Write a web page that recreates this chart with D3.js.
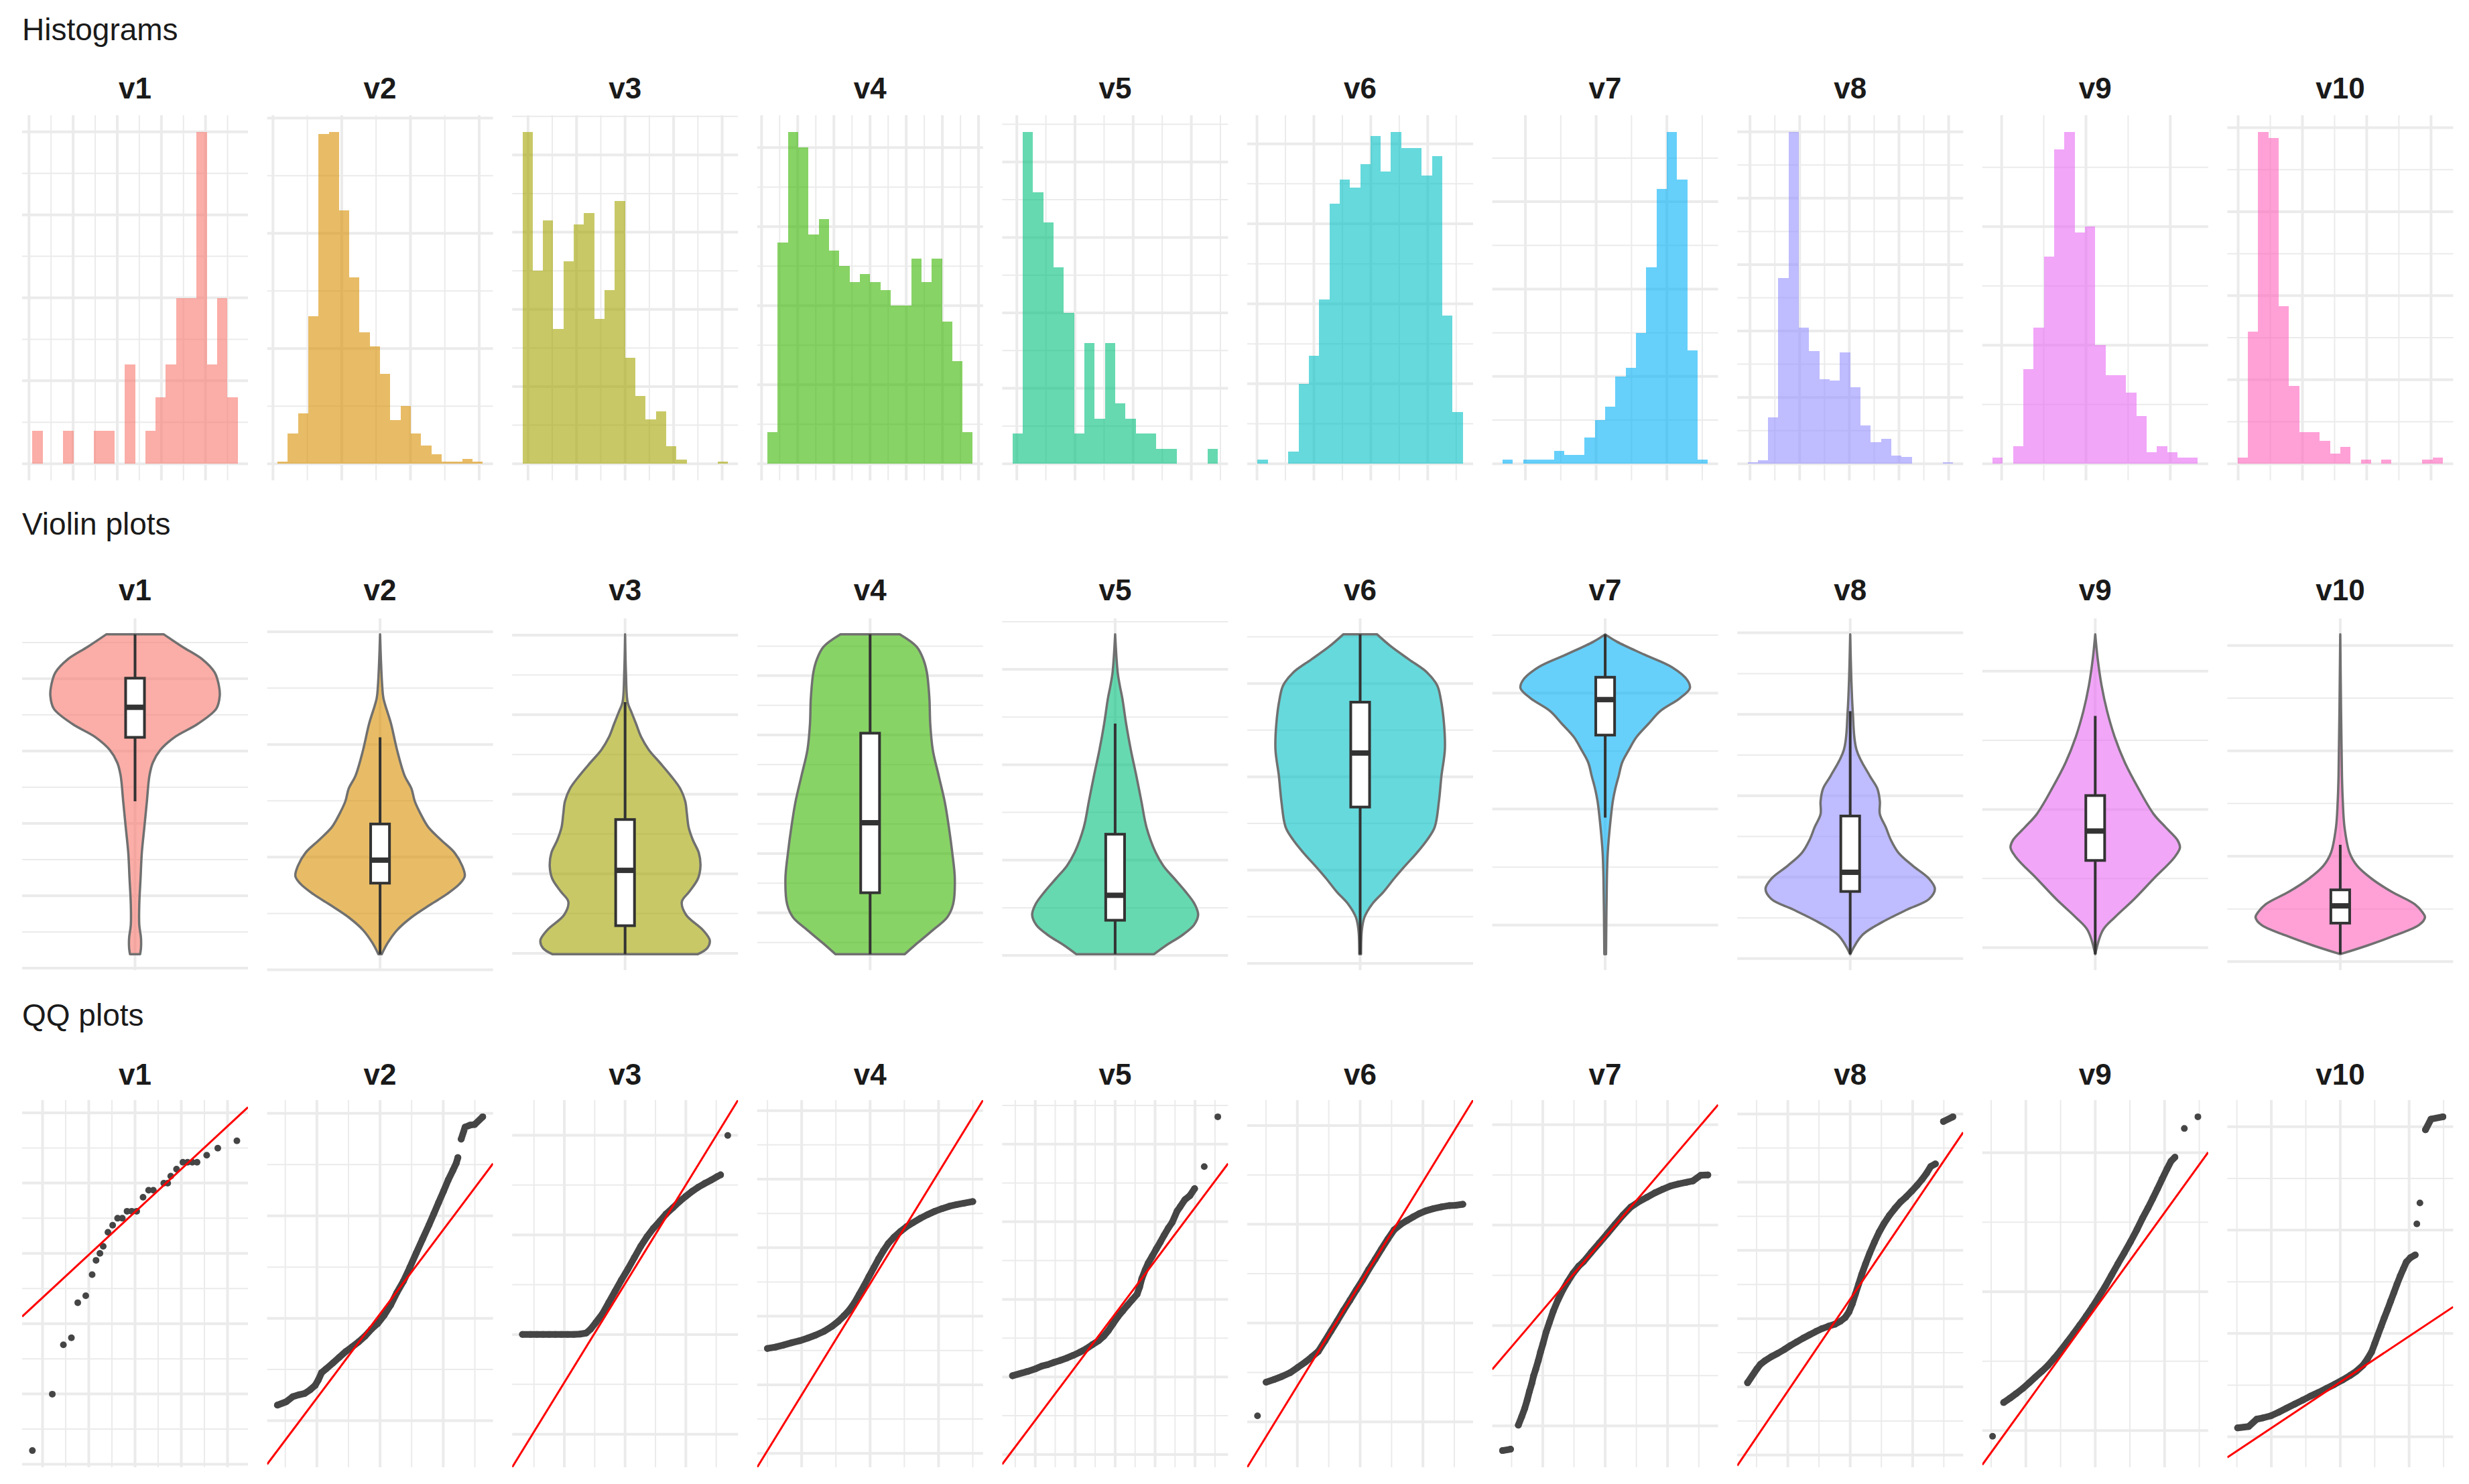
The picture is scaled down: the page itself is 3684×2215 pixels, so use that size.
<!DOCTYPE html>
<html>
<head>
<meta charset="utf-8">
<script src="https://cdn.jsdelivr.net/npm/d3@7"></script>
<style>
  body { margin: 0; background: #fff; }
  svg { display: block; font-family: "Liberation Sans", Arial, sans-serif; }
</style>
</head>
<body>
<div id="vis-holder"></div>
<script>
// ---- data -------------------------------------------------------------
const varNames = ["v1", "v2", "v3", "v4", "v5", "v6", "v7", "v8", "v9", "v10"];
const varColors = ["#F8766D", "#D89000", "#A3A500", "#39B600", "#00BF7D",
                   "#00BFC4", "#00B0F6", "#9590FF", "#E76BF3", "#FF62BC"];

// histogram counts, 20 bins spanning each variable's range
const histCounts = [
  [1,0,0,1,0,0,1,1,0,3,0,1,2,3,5,5,10,3,5,2],
  [1,13,22,64,143,144,110,81,57,51,39,19,25,13,8,4,1,1,2,1],
  [172,100,126,70,105,124,130,75,90,136,55,35,23,27,9,2,0,0,0,1],
  [8,56,84,80,58,62,54,50,46,48,46,44,40,40,52,46,52,36,26,8],
  [2,22,18,16,13,10,2,8,3,8,4,3,2,2,1,1,0,0,0,1],
  [1,0,0,3,20,27,41,65,71,69,75,82,73,83,79,79,72,77,37,13],
  [1,0,1,1,1,3,2,2,6,10,13,20,22,30,45,63,76,65,26,1],
  [1,2,28,112,200,82,68,51,50,67,46,23,13,15,5,4,0,0,0,1],
  [2,0,6,32,46,70,106,112,78,80,40,30,30,24,16,4,6,4,2,2],
  [3,63,158,155,75,37,15,15,11,5,8,0,2,0,2,0,0,0,2,3]
];
// count gridline spacing for each histogram
const histCountStep = [1.25, 25, 20, 10, 2.5, 10, 10, 20, 20, 20];

// value-axis breaks (first, spacing) on a 0 (min) .. 1 (max) value scale
const valueBreaks = [
  [-0.0435, 0.1131], [-0.049, 0.1762], [0.0024, 0.1244], [-0.0564, 0.0927], [-0.004, 0.1491],
  [-0.029, 0.1459], [0.0911, 0.1813], [-0.0137, 0.1273], [0.0201, 0.2162], [-0.0234, 0.1648]
];

// violin density profiles: [value, relative half width]
const violinDensity = [
  [[1,0.34],[0.961,0.56],[0.921,0.8],[0.881,0.94],[0.84,0.99],[0.808,1],[0.768,0.96],[0.72,0.74],[0.679,0.47],[0.639,0.3],[0.599,0.21],[0.558,0.17],[0.478,0.14],[0.397,0.11],[0.317,0.08],[0.236,0.065],[0.156,0.05],[0.091,0.05],[0.051,0.07],[0.019,0.07],[0,0.06]],
  [[1,0],[0.921,0.01],[0.84,0.025],[0.8,0.04],[0.72,0.13],[0.639,0.2],[0.558,0.29],[0.518,0.37],[0.478,0.41],[0.438,0.48],[0.397,0.57],[0.357,0.72],[0.317,0.88],[0.276,0.97],[0.244,1],[0.22,0.94],[0.188,0.79],[0.156,0.6],[0.115,0.37],[0.075,0.2],[0.035,0.09],[0,0.02]],
  [[1,0],[0.881,0.01],[0.788,0.03],[0.76,0.07],[0.72,0.13],[0.679,0.19],[0.639,0.28],[0.599,0.41],[0.558,0.54],[0.518,0.65],[0.478,0.71],[0.438,0.73],[0.397,0.75],[0.357,0.8],[0.317,0.87],[0.276,0.89],[0.236,0.86],[0.196,0.76],[0.164,0.67],[0.123,0.72],[0.075,0.92],[0.043,1],[0.019,0.97],[0,0.86]],
  [[1,0.35],[0.961,0.55],[0.921,0.63],[0.881,0.67],[0.8,0.7],[0.72,0.71],[0.639,0.74],[0.558,0.81],[0.478,0.88],[0.397,0.93],[0.317,0.97],[0.236,1],[0.156,0.98],[0.115,0.91],[0.075,0.74],[0.035,0.56],[0,0.41]],
  [[1,0],[0.881,0.03],[0.84,0.055],[0.8,0.085],[0.72,0.13],[0.639,0.185],[0.558,0.25],[0.478,0.31],[0.397,0.37],[0.317,0.48],[0.276,0.57],[0.236,0.7],[0.196,0.83],[0.156,0.94],[0.123,0.98],[0.091,0.93],[0.059,0.79],[0.027,0.6],[0,0.46]],
  [[1,0.2],[0.961,0.37],[0.921,0.58],[0.881,0.79],[0.84,0.91],[0.8,0.95],[0.72,0.99],[0.639,1],[0.558,0.96],[0.478,0.93],[0.397,0.88],[0.357,0.79],[0.317,0.67],[0.276,0.53],[0.236,0.4],[0.196,0.28],[0.156,0.14],[0.115,0.05],[0.075,0.02],[0,0.01]],
  [[1,0],[0.977,0.14],[0.937,0.46],[0.897,0.79],[0.857,0.97],[0.832,1],[0.8,0.88],[0.76,0.65],[0.72,0.51],[0.679,0.37],[0.639,0.28],[0.599,0.2],[0.558,0.16],[0.518,0.12],[0.478,0.09],[0.397,0.055],[0.317,0.03],[0.236,0.02],[0,0.01]],
  [[1,0],[0.76,0.03],[0.639,0.075],[0.558,0.23],[0.518,0.32],[0.478,0.35],[0.438,0.35],[0.397,0.42],[0.357,0.48],[0.317,0.57],[0.276,0.74],[0.236,0.93],[0.204,1],[0.172,0.93],[0.139,0.67],[0.099,0.37],[0.059,0.14],[0,0]],
  [[1,0],[0.921,0.03],[0.84,0.075],[0.76,0.14],[0.679,0.23],[0.599,0.35],[0.518,0.51],[0.438,0.69],[0.397,0.83],[0.357,0.97],[0.333,1],[0.301,0.93],[0.236,0.69],[0.172,0.46],[0.115,0.23],[0.075,0.09],[0,0]],
  [[1,0],[0.558,0.02],[0.478,0.03],[0.397,0.05],[0.317,0.11],[0.276,0.2],[0.236,0.37],[0.196,0.6],[0.156,0.88],[0.131,0.97],[0.115,1],[0.091,0.93],[0.059,0.65],[0.027,0.32],[0,0]]
];

// boxplot stats: [lower whisker, q1, median, q3, upper whisker]
const boxStats = [
  [0.478, 0.678, 0.772, 0.863, 1],
  [0, 0.222, 0.294, 0.407, 0.678],
  [0, 0.089, 0.262, 0.421, 0.788],
  [0, 0.192, 0.411, 0.691, 1],
  [0, 0.106, 0.184, 0.375, 0.721],
  [0, 0.46, 0.629, 0.788, 1],
  [0.427, 0.685, 0.796, 0.866, 1],
  [0, 0.196, 0.256, 0.432, 0.76],
  [0, 0.293, 0.385, 0.496, 0.745],
  [0, 0.097, 0.151, 0.201, 0.342]
];

// QQ points: [theoretical (rank scaled 0..1), sample (scaled)]
const qqPoints = [
  [[0,0],[0.097,0.169],[0.151,0.317],[0.19,0.338],[0.221,0.443],[0.26,0.464],[0.291,0.527],[0.31,0.57],[0.329,0.591],[0.345,0.612],[0.368,0.654],[0.391,0.675],[0.415,0.696],[0.438,0.696],[0.461,0.717],[0.484,0.717],[0.508,0.717],[0.539,0.759],[0.566,0.78],[0.589,0.78],[0.64,0.801],[0.659,0.801],[0.674,0.822],[0.702,0.843],[0.733,0.864],[0.756,0.864],[0.779,0.864],[0.802,0.864],[0.849,0.885],[0.903,0.906],[0.996,0.928]],
  [[0,0.136],[0.043,0.146],[0.074,0.161],[0.105,0.167],[0.133,0.171],[0.16,0.182],[0.184,0.195],[0.199,0.211],[0.215,0.233],[0.238,0.245],[0.27,0.262],[0.301,0.279],[0.332,0.296],[0.363,0.31],[0.395,0.325],[0.426,0.342],[0.457,0.363],[0.488,0.38],[0.52,0.405],[0.551,0.435],[0.582,0.473],[0.613,0.506],[0.645,0.548],[0.676,0.591],[0.707,0.633],[0.738,0.675],[0.762,0.709],[0.785,0.742],[0.809,0.776],[0.832,0.81],[0.855,0.839],[0.871,0.86],[0.879,0.877],[0.895,0.932],[0.914,0.968],[0.938,0.974],[0.961,0.976],[1,0.999]],
  [[0,0.348],[0.04,0.348],[0.07,0.348],[0.1,0.348],[0.13,0.348],[0.16,0.348],[0.19,0.348],[0.22,0.348],[0.25,0.348],[0.28,0.349],[0.31,0.352],[0.331,0.363],[0.358,0.384],[0.389,0.409],[0.42,0.443],[0.451,0.477],[0.482,0.511],[0.514,0.544],[0.545,0.578],[0.576,0.612],[0.607,0.641],[0.638,0.666],[0.669,0.687],[0.7,0.709],[0.732,0.727],[0.763,0.745],[0.794,0.761],[0.825,0.776],[0.856,0.789],[0.887,0.8],[0.918,0.81],[0.949,0.821],[0.965,0.826],[1,0.944]],
  [[0,0.306],[0.039,0.31],[0.078,0.316],[0.118,0.323],[0.157,0.329],[0.196,0.337],[0.235,0.346],[0.275,0.357],[0.314,0.372],[0.345,0.387],[0.373,0.404],[0.4,0.422],[0.424,0.443],[0.447,0.468],[0.471,0.494],[0.494,0.521],[0.518,0.548],[0.541,0.574],[0.565,0.599],[0.588,0.62],[0.616,0.639],[0.647,0.656],[0.678,0.671],[0.71,0.683],[0.745,0.696],[0.78,0.707],[0.816,0.717],[0.851,0.725],[0.886,0.732],[0.922,0.737],[0.957,0.741],[1,0.746]],
  [[0,0.224],[0.074,0.237],[0.113,0.245],[0.144,0.253],[0.171,0.257],[0.202,0.264],[0.233,0.27],[0.265,0.277],[0.296,0.285],[0.327,0.294],[0.358,0.304],[0.389,0.317],[0.42,0.329],[0.444,0.342],[0.467,0.359],[0.49,0.38],[0.514,0.401],[0.537,0.418],[0.56,0.435],[0.584,0.452],[0.607,0.468],[0.619,0.489],[0.63,0.515],[0.646,0.54],[0.661,0.561],[0.681,0.582],[0.7,0.603],[0.72,0.624],[0.739,0.645],[0.759,0.666],[0.778,0.683],[0.802,0.717],[0.817,0.73],[0.84,0.751],[0.864,0.763],[0.887,0.784],[0.934,0.85],[1,0.999]],
  [[0,0.104],[0.042,0.205],[0.081,0.213],[0.119,0.222],[0.158,0.233],[0.196,0.249],[0.235,0.266],[0.265,0.281],[0.296,0.297],[0.327,0.327],[0.358,0.358],[0.388,0.388],[0.419,0.42],[0.45,0.45],[0.481,0.481],[0.512,0.511],[0.542,0.543],[0.573,0.573],[0.604,0.604],[0.635,0.634],[0.665,0.661],[0.696,0.677],[0.727,0.689],[0.758,0.7],[0.788,0.71],[0.819,0.718],[0.858,0.725],[0.896,0.73],[0.935,0.734],[0.965,0.735],[1,0.738]],
  [[0,0.001],[0.039,0.005],[0.077,0.077],[0.093,0.102],[0.108,0.127],[0.12,0.152],[0.131,0.178],[0.143,0.203],[0.151,0.224],[0.162,0.245],[0.174,0.27],[0.185,0.296],[0.197,0.321],[0.212,0.355],[0.228,0.384],[0.247,0.418],[0.27,0.452],[0.293,0.481],[0.317,0.506],[0.344,0.532],[0.371,0.553],[0.394,0.566],[0.432,0.594],[0.471,0.622],[0.51,0.65],[0.548,0.678],[0.587,0.706],[0.625,0.73],[0.664,0.746],[0.703,0.759],[0.741,0.772],[0.78,0.783],[0.819,0.793],[0.857,0.799],[0.896,0.804],[0.927,0.808],[0.965,0.825],[1,0.826]],
  [[0,0.203],[0.046,0.245],[0.062,0.258],[0.085,0.269],[0.116,0.281],[0.147,0.291],[0.178,0.302],[0.208,0.314],[0.239,0.325],[0.27,0.336],[0.301,0.346],[0.332,0.356],[0.363,0.365],[0.394,0.372],[0.425,0.378],[0.452,0.387],[0.475,0.398],[0.494,0.415],[0.51,0.439],[0.525,0.468],[0.541,0.498],[0.556,0.527],[0.575,0.559],[0.595,0.591],[0.618,0.624],[0.641,0.654],[0.664,0.679],[0.691,0.704],[0.718,0.725],[0.745,0.744],[0.772,0.759],[0.799,0.776],[0.826,0.794],[0.849,0.811],[0.873,0.831],[0.892,0.85],[0.915,0.858],[0.954,0.985],[1,0.999]],
  [[0,0.043],[0.054,0.144],[0.085,0.157],[0.116,0.171],[0.147,0.186],[0.178,0.203],[0.208,0.22],[0.239,0.237],[0.27,0.255],[0.301,0.277],[0.332,0.3],[0.363,0.325],[0.394,0.35],[0.425,0.376],[0.456,0.403],[0.486,0.43],[0.517,0.46],[0.548,0.491],[0.579,0.525],[0.61,0.559],[0.641,0.592],[0.672,0.626],[0.703,0.662],[0.73,0.696],[0.757,0.727],[0.78,0.755],[0.803,0.784],[0.826,0.814],[0.849,0.843],[0.869,0.867],[0.888,0.879],[0.934,0.965],[1,1]],
  [[0,0.068],[0.054,0.072],[0.093,0.094],[0.124,0.098],[0.162,0.104],[0.201,0.115],[0.239,0.127],[0.278,0.139],[0.317,0.151],[0.355,0.163],[0.394,0.174],[0.432,0.186],[0.471,0.198],[0.51,0.211],[0.548,0.225],[0.579,0.238],[0.61,0.255],[0.633,0.275],[0.653,0.296],[0.668,0.321],[0.683,0.346],[0.699,0.372],[0.714,0.397],[0.73,0.422],[0.745,0.447],[0.761,0.473],[0.776,0.498],[0.792,0.523],[0.807,0.544],[0.822,0.565],[0.842,0.578],[0.865,0.586],[0.873,0.679],[0.888,0.742],[0.915,0.961],[0.942,0.993],[1,1]]
];
// reference line: sample value at theoretical 0 and 1
const qqLine = [[0.43,1.0],[0,0.818],[0,1],[0,1],[0,0.818],[0,1],[0.28,1.0],[0,0.907],[0,0.851],[0,0.41]];
// theoretical quantile range (z) and its break spacing
const qqZmax = [2.22, 3.25, 3.38, 3.0, 2.57, 3.27, 3.29, 3.29, 2.96, 2.98];
const qqZstep = [0.5, 1, 1, 1, 0.5, 1, 1, 1, 1, 1];
// sample-axis breaks (first, spacing) on the QQ scale
const qqBreaks = [
  [-0.041, 0.1053], [0.0893, 0.1533], [0.0489, 0.1493], [-0.0084, 0.1027], [-0.0118, 0.1161],
  [0.0859, 0.148], [0.075, 0.1502], [-0.0135, 0.1021], [0.0598, 0.2081], [0.0413, 0.1548]
];

// ---- layout -----------------------------------------------------------
const width = 3684, height = 2215;
const panelW = 337, panelStep = 365.6, panelX0 = 33;
const rows = {
  hist:   { label: "Histograms",   labelY: 60,   titleY: 147,  top: 172,  bottom: 717 },
  violin: { label: "Violin plots", labelY: 798,  titleY: 896,  top: 923,  bottom: 1448 },
  qq:     { label: "QQ plots",     labelY: 1531, titleY: 1619, top: 1642, bottom: 2190 }
};
const gridColor = "#EBEBEB";

const svg = d3.select("#vis-holder")
  .append("svg")
  .attr("width", width)
  .attr("height", height)
  .attr("viewBox", [0, 0, width, height]);

const defs = svg.append("defs");

const expand = ([a, b], m = 0.05) => [a - (b - a) * m, b + (b - a) * m];

// gridline values from a first break and spacing, alternating major / minor
function breaksFrom(first, step, lo, hi) {
  const out = [];
  const k0 = Math.ceil((lo - first) / step - 1e-9);
  for (let k = k0; first + k * step <= hi + 1e-9; k++) {
    out.push({ v: first + k * step, major: Math.abs(k) % 2 === 0 });
  }
  return out;
}

function hLines(g, y, vals, x0, x1) {
  g.selectAll(null).data(vals).join("line")
    .attr("x1", x0).attr("x2", x1)
    .attr("y1", d => y(d.v)).attr("y2", d => y(d.v))
    .attr("stroke", gridColor)
    .attr("stroke-width", d => d.major ? 4 : 2);
}

function vLines(g, x, vals, y0, y1) {
  g.selectAll(null).data(vals).join("line")
    .attr("y1", y0).attr("y2", y1)
    .attr("x1", d => x(d.v)).attr("x2", d => x(d.v))
    .attr("stroke", gridColor)
    .attr("stroke-width", d => d.major ? 4 : 2);
}

// row labels and panel titles
Object.values(rows).forEach(r => {
  svg.append("text")
    .attr("x", 33).attr("y", r.labelY)
    .attr("font-size", 46)
    .attr("fill", "#1a1a1a")
    .text(r.label);
  varNames.forEach((name, i) => {
    svg.append("text")
      .attr("x", panelX0 + i * panelStep + panelW / 2)
      .attr("y", r.titleY)
      .attr("text-anchor", "middle")
      .attr("font-size", 44)
      .attr("font-weight", "bold")
      .attr("fill", "#1a1a1a")
      .text(name);
  });
});

// ---- Histograms -------------------------------------------------------
{
  const r = rows.hist;
  varNames.forEach((name, i) => {
    const L = panelX0 + i * panelStep;
    const counts = histCounts[i];
    const nb = counts.length;
    const half = 0.5 / (nb - 1);
    const x = d3.scaleLinear().domain(expand([-half, 1 + half])).range([L, L + panelW]);
    const y = d3.scaleLinear().domain(expand([0, d3.max(counts)])).range([r.bottom, r.top]);
    const g = svg.append("g");

    const [xd0, xd1] = x.domain();
    const [yd0, yd1] = y.domain();
    hLines(g, y, breaksFrom(0, histCountStep[i], yd0, yd1), L, L + panelW);
    vLines(g, x, breaksFrom(valueBreaks[i][0], valueBreaks[i][1], xd0, xd1), r.top, r.bottom);

    g.selectAll("rect").data(counts).join("rect")
      .attr("x", (d, k) => x(k / (nb - 1) - half))
      .attr("width", (d, k) => x(k / (nb - 1) + half) - x(k / (nb - 1) - half))
      .attr("y", d => y(d))
      .attr("height", d => y(0) - y(d))
      .attr("fill", varColors[i])
      .attr("fill-opacity", 0.6)
      .attr("shape-rendering", "crispEdges");
  });
}

// ---- Violin plots -----------------------------------------------------
{
  const r = rows.violin;
  varNames.forEach((name, i) => {
    const L = panelX0 + i * panelStep;
    // one discrete category, ggplot adds 0.6 units either side
    const x = d3.scaleLinear().domain([0.4, 1.6]).range([L, L + panelW]);
    const y = d3.scaleLinear().domain(expand([0, 1])).range([r.bottom, r.top]);
    const g = svg.append("g");
    const [yd0, yd1] = y.domain();

    hLines(g, y, breaksFrom(valueBreaks[i][0], valueBreaks[i][1], yd0, yd1), L, L + panelW);
    vLines(g, x, [{ v: 1, major: true }], r.top, r.bottom);

    const area = d3.area()
      .y(d => y(d[0]))
      .x0(d => x(1 - 0.45 * d[1]))
      .x1(d => x(1 + 0.45 * d[1]))
      .curve(d3.curveCatmullRom.alpha(0.5));

    g.append("path")
      .datum(violinDensity[i])
      .attr("d", area)
      .attr("fill", varColors[i])
      .attr("fill-opacity", 0.6)
      .attr("stroke", "#707070")
      .attr("stroke-width", 3.5)
      .attr("stroke-linejoin", "round");

    const [lw, q1, med, q3, uw] = boxStats[i];
    const bx0 = x(0.95), bx1 = x(1.05);
    g.append("line")
      .attr("x1", x(1)).attr("x2", x(1)).attr("y1", y(uw)).attr("y2", y(q3))
      .attr("stroke", "#333333").attr("stroke-width", 4);
    g.append("line")
      .attr("x1", x(1)).attr("x2", x(1)).attr("y1", y(q1)).attr("y2", y(lw))
      .attr("stroke", "#333333").attr("stroke-width", 4);
    g.append("rect")
      .attr("x", bx0).attr("width", bx1 - bx0)
      .attr("y", y(q3)).attr("height", y(q1) - y(q3))
      .attr("fill", "#ffffff")
      .attr("stroke", "#333333").attr("stroke-width", 4);
    g.append("line")
      .attr("x1", bx0).attr("x2", bx1).attr("y1", y(med)).attr("y2", y(med))
      .attr("stroke", "#333333").attr("stroke-width", 8);
  });
}

// ---- QQ plots ---------------------------------------------------------
{
  const r = rows.qq;
  varNames.forEach((name, i) => {
    const L = panelX0 + i * panelStep;
    const pts = qqPoints[i];
    const [l0, l1] = qqLine[i];
    const x = d3.scaleLinear().domain(expand([0, 1])).range([L, L + panelW]);
    const yExt = d3.extent(pts.map(d => d[1]).concat([l0, l1]));
    const y = d3.scaleLinear().domain(expand(yExt)).range([r.bottom, r.top]);

    const clipId = "qqclip" + i;
    defs.append("clipPath").attr("id", clipId)
      .append("rect")
      .attr("x", L).attr("y", r.top)
      .attr("width", panelW).attr("height", r.bottom - r.top);

    const g = svg.append("g");
    const [yd0, yd1] = y.domain();
    const [xd0, xd1] = x.domain();

    hLines(g, y, breaksFrom(qqBreaks[i][0], qqBreaks[i][1], yd0, yd1), L, L + panelW);

    // theoretical quantile breaks, symmetric around zero
    const zm = qqZmax[i], zs = qqZstep[i];
    const zVals = [];
    for (let z = -Math.floor(zm * 1.1 / zs) * zs; z <= zm * 1.1 + 1e-9; z += zs) {
      const v = 0.5 + z / (2 * zm);
      if (v >= xd0 && v <= xd1) {
        const major = zs === 1 ? Math.round(z) % 2 === 0 : Math.abs(z - Math.round(z)) < 1e-6;
        zVals.push({ v, major });
      }
    }
    vLines(g, x, zVals, r.top, r.bottom);

    // large samples: dense runs of points overlap into a band
    const nObs = d3.sum(histCounts[i]);
    if (nObs > 60) {
      const px = pts.map(d => [x(d[0]), y(d[1])]);
      let band = "";
      for (let k = 1; k < px.length; k++) {
        const dx = px[k][0] - px[k - 1][0], dy = px[k][1] - px[k - 1][1];
        if (Math.hypot(dx, dy) < 26) band += `M${px[k - 1][0]},${px[k - 1][1]}L${px[k][0]},${px[k][1]}`;
      }
      g.append("path")
        .attr("d", band)
        .attr("fill", "none")
        .attr("stroke", "#454545")
        .attr("stroke-width", 10)
        .attr("stroke-linecap", "round")
        .attr("stroke-linejoin", "round");
    }

    g.selectAll("circle").data(pts).join("circle")
      .attr("cx", d => x(d[0]))
      .attr("cy", d => y(d[1]))
      .attr("r", 5)
      .attr("fill", "#454545");

    g.append("line")
      .attr("clip-path", `url(#${clipId})`)
      .attr("x1", x(xd0)).attr("y1", y(l0 + (l1 - l0) * xd0))
      .attr("x2", x(xd1)).attr("y2", y(l0 + (l1 - l0) * xd1))
      .attr("stroke", "#FF0000")
      .attr("stroke-width", 3);
  });
}
</script>
</body>
</html>
